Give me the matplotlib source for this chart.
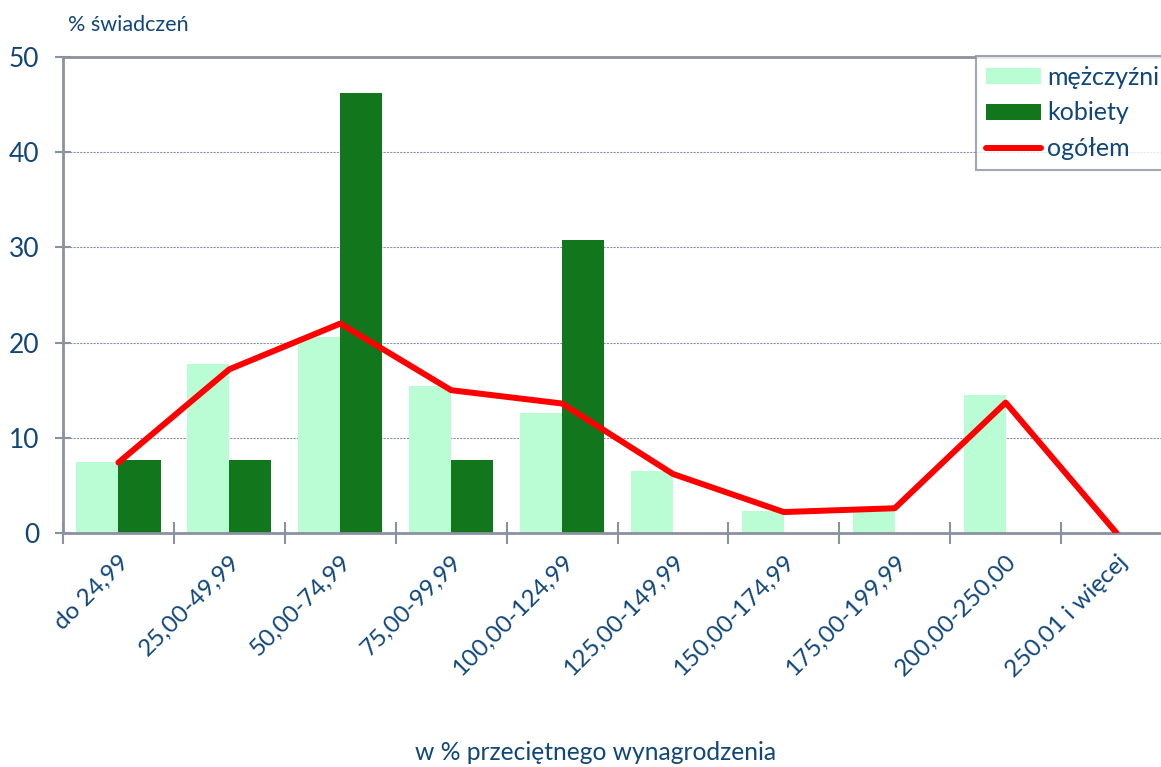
import matplotlib
matplotlib.use("Agg")
import matplotlib.pyplot as plt
import numpy as np
from matplotlib.patches import Patch
from matplotlib.lines import Line2D

categories = ["do 24,99", "25,00-49,99", "50,00-74,99", "75,00-99,99", "100,00-124,99",
              "125,00-149,99", "150,00-174,99", "175,00-199,99", "200,00-250,00", "250,01 i więcej"]
mezczyzni = [7.5, 17.8, 20.6, 15.4, 12.6, 6.5, 2.3, 2.5, 14.5, 0.0]
kobiety = [7.7, 7.7, 46.2, 7.7, 30.8, 0.0, 0.0, 0.0, 0.0, 0.0]
ogolem = [7.4, 17.2, 22.0, 15.0, 13.6, 6.2, 2.2, 2.6, 13.7, 0.0]
yticks = [0, 10, 20, 30, 40, 50]

TXT = "#10467A"
AX = "#8A919F"
LIGHT = "#BAFCD4"
DARK = "#12771C"

plt.rcParams['font.family'] = ['Lato', 'DejaVu Sans']

fig = plt.figure(figsize=(11.61, 7.67), dpi=100)
ax = fig.add_axes([63/1161, 234/767, 1109/1161, 476/767])

x = np.arange(len(categories))
w = 0.38
ax.bar(x - w/2, mezczyzni, width=w, color=LIGHT, zorder=2)
ax.bar(x + w/2, kobiety, width=w, color=DARK, zorder=2)
ax.plot(x, ogolem, color="#FF0000", lw=4.3, zorder=3, solid_capstyle='round')

ax.set_xlim(-0.5, len(categories) - 0.5)
ax.set_ylim(0, 50)
ax.set_yticks(yticks)
ax.set_yticklabels([str(v) for v in yticks], fontsize=19, color=TXT)
ax.set_xticks(x - 0.5, minor=False)
ax.set_xticklabels([])
ax.set_xticks(x, minor=True)
ax.set_xticklabels(categories, minor=True, rotation=45, ha='right', va='top',
                   rotation_mode='anchor', fontsize=17.5, color=TXT)
ax.tick_params(axis='x', which='minor', length=0, pad=13)
ax.tick_params(axis='x', which='major', direction='inout', length=16, width=1.5, color=AX)
ax.tick_params(axis='y', direction='inout', length=12, width=1.5, color=AX, pad=11)

for s in ['right']:
    ax.spines[s].set_visible(False)
for s in ['left', 'bottom', 'top']:
    ax.spines[s].set_color(AX)
    ax.spines[s].set_linewidth(2)

for v in yticks[1:-1]:
    ax.axhline(v, color="#8A93A8", lw=0.8, ls=(0, (2, 1)), zorder=1)

fig.text(68/1161, 1 - 25/767, "% świadczeń", fontsize=15.5, color=TXT, va='center', ha='left')
fig.text(596/1161, 1 - 752/767, "w % przeciętnego wynagrodzenia", fontsize=17.7, color=TXT,
         va='center', ha='center')

handles = [Patch(facecolor=LIGHT, edgecolor='none'),
           Patch(facecolor=DARK, edgecolor='none'),
           Line2D([0], [0], color="#FF0000", lw=4.3, solid_capstyle='round')]
leg = fig.legend(handles, ["mężczyźni", "kobiety", "ogółem"], loc='upper left',
                 bbox_to_anchor=(976/1161, 1 - 56/767), fontsize=18, frameon=True,
                 fancybox=False, handlelength=2.2, handleheight=0.6, handletextpad=0.25,
                 labelspacing=0.5, borderpad=0.4, borderaxespad=0)
leg.get_frame().set_edgecolor(AX)
leg.get_frame().set_linewidth(1.5)
for t in leg.get_texts():
    t.set_color(TXT)

fig.savefig("out.png", dpi=100)
